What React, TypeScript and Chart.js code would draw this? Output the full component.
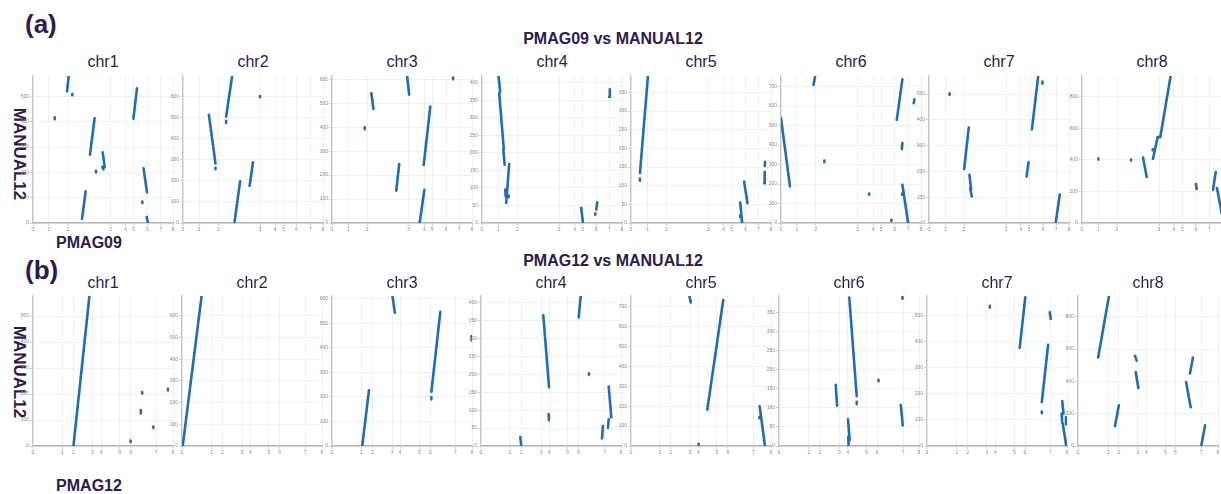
import React, { useEffect, useRef } from "react";
import { Chart, registerables } from "chart.js";

Chart.register(...registerables);

// ---------- data ----------
const CHROMS = ["chr1", "chr2", "chr3", "chr4", "chr5", "chr6", "chr7", "chr8"];
const X_LABELS = ["0", "1", "2", "3", "4", "5", "6", "7", "8"];

// (a) PMAG09 vs MANUAL12 : x tick positions (percent of PMAG09 axis)
const A_XTICKS = [
  [0, 11.4, 25, 55.2, 66.2, 71.9, 81.7, 91.4, 100],
  [0, 11.6, 25.4, 55, 65.9, 71.8, 81, 91, 100],
  [0, 11.8, 25.1, 54.6, 66, 71.6, 81.6, 90.8, 100],
  [0, 11.8, 25.3, 55.1, 66.2, 71.9, 81.6, 91, 100],
  [0, 11.8, 25.4, 55.2, 66.1, 71.8, 81.8, 91.2, 100],
  [0, 11.4, 24.9, 54.7, 65.9, 71.6, 81.3, 90.8, 100],
  [0, 11.8, 25.1, 55, 65.6, 71.6, 81.5, 90.8, 100],
  [0, 11.7, 25, 55, 65.7, 71.7, 81.4, 91, 100],
];
const A_YMAX = [581, 699, 614, 419, 394, 754, 570, 930];
const A_YSTEP = [100, 100, 100, 50, 50, 100, 100, 200];

// segments: [x1, y1, x2, y2]
const A_CHR1 = [
  [24.3, 520, 25.5, 581], [28.1, 505, 28.1, 511], [15.5, 410, 15.5, 418],
  [40.7, 270, 44, 414], [71.7, 412, 74.3, 532], [49.8, 279, 51.2, 221],
  [49.6, 222, 50.3, 212], [45, 200, 45, 206], [79, 216, 81.4, 121],
  [35, 16, 37.6, 125], [78.1, 79, 78.1, 85], [81.2, 24, 82.1, 0],
];
const A_CHR2 = [
  [30.8, 506, 35.1, 699], [30.8, 476, 30.8, 486], [55, 598, 55, 604],
  [18.5, 514, 23.2, 282], [23.2, 256, 23.2, 262], [47.6, 177, 50, 289],
  [36.7, 0, 40.8, 198],
];
const A_CHR3 = [
  [53.7, 614, 55.1, 536], [86.5, 600, 86.5, 608], [28.1, 542, 29.6, 476],
  [23.4, 392, 23.4, 400], [45.9, 135, 48, 246], [65.5, 242, 70.2, 486],
  [62.6, 0, 66, 139],
];
const A_CHR4 = [
  [11.8, 419, 13, 374], [12.3, 370, 15.6, 210], [15.2, 210, 16.2, 166],
  [17.3, 57, 19.4, 168], [16.6, 95, 16.9, 76], [19.1, 74, 19.1, 78],
  [70.9, 43, 72.1, 0], [81.6, 38, 82.3, 59], [80.9, 24, 80.9, 28],
  [90.8, 360, 91.3, 381],
];
const A_CHR5 = [
  [6.4, 134, 12.1, 394], [6.4, 113, 6.4, 119], [78, 55, 79.4, 0],
  [78, 16, 78, 20], [80.8, 111, 83.2, 53], [95, 107, 95.5, 137],
  [95.5, 153, 95.8, 164],
];
const A_CHR6 = [
  [0, 538, 6.4, 188], [23.2, 708, 24.4, 754], [31, 312, 31, 320],
  [63, 145, 63, 151], [78.9, 10, 78.9, 17], [82.7, 529, 86.7, 737],
  [86.3, 379, 86.7, 410], [94.8, 614, 95.3, 635], [86.7, 196, 90.8, 0],
  [86.5, 145, 86.5, 151],
];
const A_CHR7 = [
  [14.7, 497, 14.7, 503], [25.1, 209, 28.4, 370], [28.9, 187, 30.1, 130],
  [29.4, 135, 30.6, 103], [69.7, 180, 71.1, 235], [73.5, 363, 78, 570],
  [81, 540, 81, 548], [90.5, 0, 93.4, 110],
];
const A_CHR8 = [
  [11.7, 401, 11.7, 407], [35, 395, 35, 401], [43.6, 415, 46.2, 291],
  [50.7, 406, 54, 543], [50.5, 460, 50.5, 466], [54, 543, 55.9, 543],
  [55.9, 543, 63.3, 930], [81.4, 246, 81.9, 215], [93.6, 210, 95.5, 322],
  [96.4, 221, 100, 55],
];

// (b) PMAG12 vs MANUAL12
const B_XTICKS = [
  [0, 20.9, 28.9, 42.4, 48.6, 62.1, 69.9, 87.9, 100],
  [0, 21.1, 28.9, 42.9, 48.8, 62.1, 69.7, 87.9, 100],
  [0, 20.9, 29, 43, 48.7, 62.5, 70.3, 88.1, 100],
  [0, 20.7, 28.8, 42.9, 48.6, 61.9, 69.8, 88.1, 100],
  [0, 20.6, 28.4, 42.2, 48.1, 61.4, 69.2, 87.4, 100],
  [0, 21.3, 29.1, 43.1, 49.1, 62.6, 70.1, 88.6, 100],
  [0, 21.3, 29.1, 42.8, 48.9, 62.4, 70, 88.2, 100],
  [0, 21.6, 29.2, 42.8, 48.9, 62.4, 69.6, 88, 100],
];
const B_YMAX = [577, 692, 611, 419, 753, 394, 575, 929];
const B_YSTEP = [100, 100, 100, 50, 100, 50, 100, 200];

const B_CHR1 = [
  [28.9, 0, 40.3, 577], [69.7, 15, 69.7, 21], [77, 125, 77, 138],
  [78, 202, 78, 208], [86, 69, 86, 75], [96.4, 214, 96.4, 220],
];
const B_CHR2 = [[0.5, 0, 14, 692]];
const B_CHR3 = [
  [21.6, 0, 26.4, 227], [43.2, 611, 44.9, 543], [71, 221, 77.4, 547],
  [71, 190, 71, 198], [99.8, 448, 99.8, 430],
];
const B_CHR4 = [
  [28.1, 25, 28.8, 0], [44.5, 365, 48.6, 164], [48.3, 89, 48.5, 72],
  [69.8, 359, 71.2, 419], [77.1, 199, 77.1, 203], [86.4, 21, 87.1, 56],
  [90.7, 51, 91.2, 75], [91.2, 166, 93.1, 80],
];
const B_CHR5 = [
  [41.7, 753, 42.7, 721], [48.3, 5, 48.3, 11], [54.5, 182, 65.9, 733],
  [91.9, 199, 95.7, 0], [91.7, 139, 91.7, 145],
];
const B_CHR6 = [
  [40.5, 161, 41.5, 106], [50.2, 390, 55.5, 131], [55.5, 110, 55.5, 116],
  [49.3, 70, 50.5, 15], [49.5, 24, 49.7, 0], [71.1, 170, 71.1, 174],
  [88.2, 387, 88.2, 393], [87, 108, 88.4, 54],
];
const B_CHR7 = [
  [44.9, 531, 44.9, 537], [66.2, 376, 70.2, 570], [87.7, 513, 88.4, 487],
  [82, 168, 86.5, 388], [82, 126, 82, 132], [96.6, 172, 97.5, 124],
  [96.2, 124, 96.6, 88], [97, 85, 99.5, 0], [99.3, 111, 99.3, 83],
];
const B_CHR8 = [
  [14.4, 548, 22.1, 929], [26.4, 123, 29.2, 252], [40.7, 558, 41.9, 529],
  [41.2, 458, 43.1, 359], [77.2, 396, 80.5, 240], [80, 449, 82.1, 548],
  [88, 0, 90.8, 129],
];

const A_SEGS = [A_CHR1, A_CHR2, A_CHR3, A_CHR4, A_CHR5, A_CHR6, A_CHR7, A_CHR8];
const B_SEGS = [B_CHR1, B_CHR2, B_CHR3, B_CHR4, B_CHR5, B_CHR6, B_CHR7, B_CHR8];

// ---------- layout / style ----------
const BLUE = "#1f6eb3";
const INK = "#2c1b4d";
const FONT = '"Liberation Sans", Arial, sans-serif';
const A_LEFTS = [33, 183, 332, 482, 631, 781, 929, 1082];
const B_LEFTS = [33, 182, 332, 481, 631, 779, 927, 1078];
const PLOT_W = 140;
const YW = 14;
const XH = 12;
const PT = 4;
const PR = 4;

type PanelProps = {
  left: number;
  top: number;
  h: number;
  ymax: number;
  ystep: number;
  xticks: number[];
  segs: number[][];
};

function Panel({ left, top, h, ymax, ystep, xticks, segs }: PanelProps) {
  const ref = useRef<HTMLCanvasElement>(null);
  useEffect(() => {
    if (!ref.current) return;
    const data: any[] = [];
    segs.forEach((s) => {
      data.push({ x: s[0], y: s[1] });
      data.push({ x: s[2], y: s[3] });
      data.push({ x: s[2], y: null });
    });
    const yticks: number[] = [];
    for (let v = 0; v <= ymax; v += ystep) yticks.push(v);
    const tickFont = { size: 5, family: FONT };
    const chart = new Chart(ref.current, {
      type: "scatter",
      data: {
        datasets: [
          {
            data,
            showLine: true,
            spanGaps: false,
            borderColor: BLUE,
            backgroundColor: BLUE,
            borderWidth: 2.6,
            borderCapStyle: "round",
            pointRadius: 0,
            pointHoverRadius: 0,
          } as any,
        ],
      },
      options: {
        animation: false,
        responsive: false,
        devicePixelRatio: 1,
        events: [],
        layout: { padding: { top: PT, right: PR, left: 0, bottom: 0 } },
        plugins: { legend: { display: false }, tooltip: { enabled: false } },
        scales: {
          x: {
            type: "linear",
            min: 0,
            max: 100,
            afterBuildTicks: (s: any) => {
              s.ticks = xticks.map((v) => ({ value: v }));
            },
            afterFit: (s: any) => {
              s.height = XH;
            },
            ticks: {
              autoSkip: false,
              maxRotation: 0,
              minRotation: 0,
              padding: 1,
              color: "#8a8a8a",
              font: tickFont,
              callback: (_v: any, i: number) => X_LABELS[i],
            },
            grid: { color: "#efefef", lineWidth: 1, tickLength: 3, tickColor: "#cfcfcf" },
            border: { color: "#b8b8b8", width: 1.5 },
          },
          y: {
            type: "linear",
            min: 0,
            max: ymax,
            afterBuildTicks: (s: any) => {
              s.ticks = yticks.map((v) => ({ value: v }));
            },
            afterFit: (s: any) => {
              s.width = YW;
            },
            ticks: {
              autoSkip: false,
              padding: 1,
              color: "#8a8a8a",
              font: tickFont,
              callback: (v: any) => String(v),
            },
            grid: { color: "#efefef", lineWidth: 1, tickLength: 3, tickColor: "#cfcfcf" },
            border: { color: "#c4c4c4", width: 1.2 },
          },
        },
      } as any,
    });
    return () => chart.destroy();
  }, []);
  const w = PLOT_W + YW + PR;
  const hh = h + PT + XH;
  return (
    <canvas
      ref={ref}
      width={w}
      height={hh}
      style={{ position: "absolute", left: left - YW, top: top - PT, width: w, height: hh }}
    />
  );
}

const txt = (extra: React.CSSProperties): React.CSSProperties => ({
  position: "absolute",
  fontFamily: FONT,
  color: INK,
  whiteSpace: "nowrap",
  lineHeight: 1,
  ...extra,
});

function Row({
  label,
  title,
  xName,
  titleY,
  labelY,
  chrY,
  top,
  h,
  lefts,
  xticks,
  ymax,
  ystep,
  segs,
  yNameY,
  xNameY,
}: any) {
  return (
    <>
      <div style={txt({ left: 25, top: labelY, fontSize: 26, fontWeight: 700, transform: "translateY(-50%)" })}>
        {label}
      </div>
      <div
        style={txt({ left: 613, top: titleY, fontSize: 16, fontWeight: 700, transform: "translate(-50%,-50%)" })}
      >
        {title}
      </div>
      <div
        style={txt({
          left: 19,
          top: yNameY,
          fontSize: 17,
          fontWeight: 700,
          transform: "translate(-50%,-50%) rotate(90deg)",
        })}
      >
        MANUAL12
      </div>
      <div style={txt({ left: 89, top: xNameY, fontSize: 16, fontWeight: 700, transform: "translate(-50%,-50%)" })}>
        {xName}
      </div>
      {CHROMS.map((c, i) => (
        <div
          key={"t" + c}
          style={txt({ left: lefts[i] + PLOT_W / 2, top: chrY, fontSize: 16, transform: "translate(-50%,-50%)" })}
        >
          {c}
        </div>
      ))}
      {CHROMS.map((c, i) => (
        <Panel
          key={c}
          left={lefts[i]}
          top={top}
          h={h}
          ymax={ymax[i]}
          ystep={ystep[i]}
          xticks={xticks[i]}
          segs={segs[i]}
        />
      ))}
    </>
  );
}

export default function App() {
  return (
    <div
      style={{
        position: "absolute",
        left: 0,
        top: 0,
        width: 1221,
        height: 494,
        overflow: "hidden",
        background: "#ffffff",
      }}
    >
      <Row
        label="(a)"
        title="PMAG09 vs MANUAL12"
        xName="PMAG09"
        labelY={24}
        titleY={39}
        chrY={62}
        top={76}
        h={147}
        lefts={A_LEFTS}
        xticks={A_XTICKS}
        ymax={A_YMAX}
        ystep={A_YSTEP}
        segs={A_SEGS}
        yNameY={154}
        xNameY={243}
      />
      <Row
        label="(b)"
        title="PMAG12 vs MANUAL12"
        xName="PMAG12"
        labelY={270}
        titleY={261}
        chrY={283}
        top={296}
        h={150}
        lefts={B_LEFTS}
        xticks={B_XTICKS}
        ymax={B_YMAX}
        ystep={B_YSTEP}
        segs={B_SEGS}
        yNameY={372}
        xNameY={486}
      />
    </div>
  );
}
